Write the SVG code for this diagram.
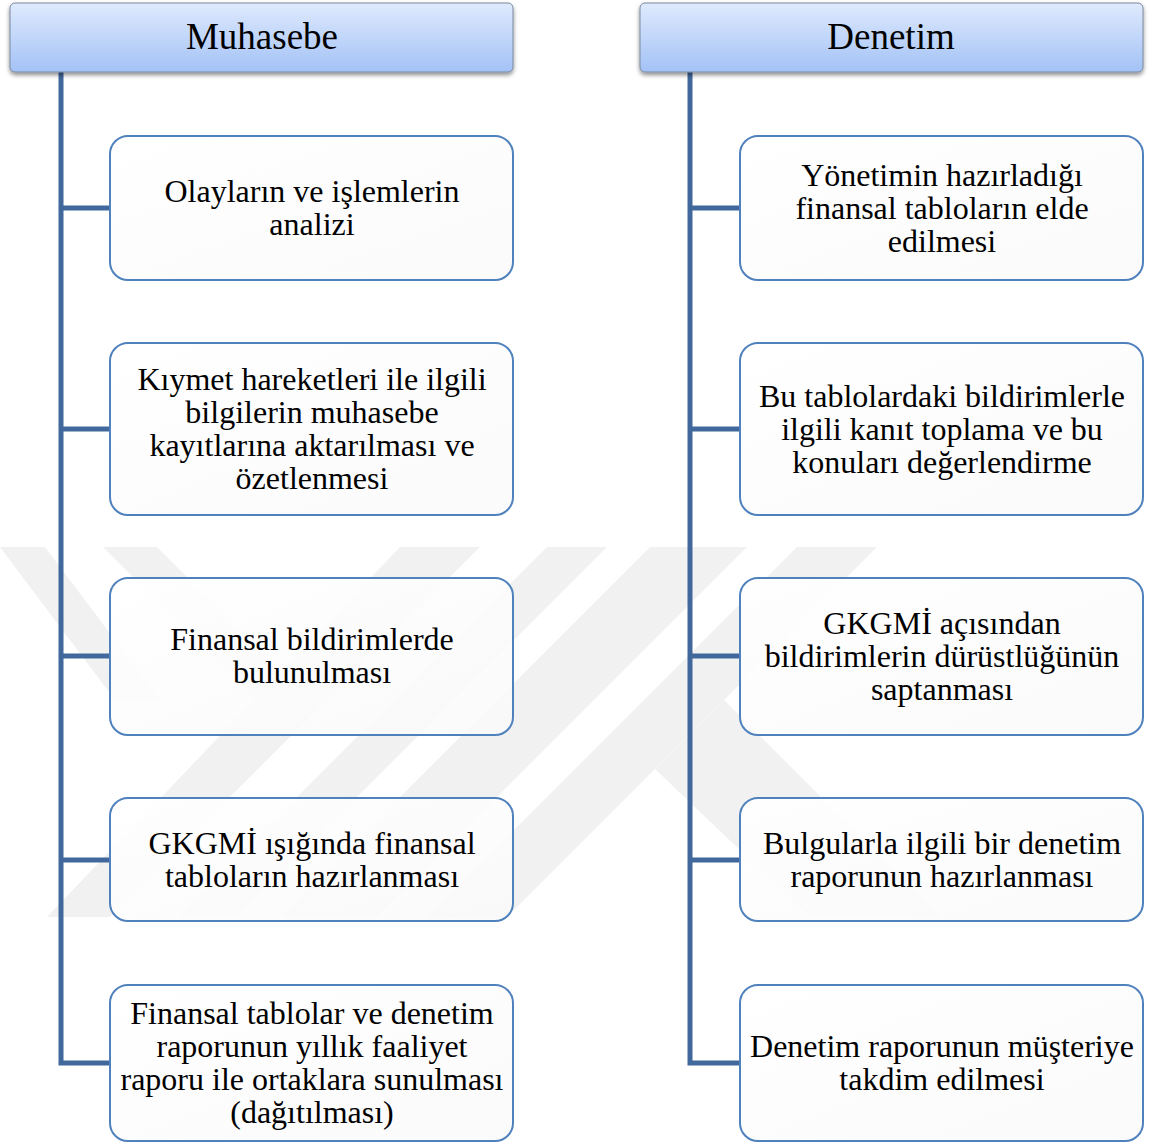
<svg xmlns="http://www.w3.org/2000/svg" width="1158" height="1144" viewBox="0 0 1158 1144">
<defs>
<linearGradient id="hdr" x1="0" y1="0" x2="0" y2="1">
<stop offset="0" stop-color="#dfeafd"/>
<stop offset="1" stop-color="#a3c2f6"/>
</linearGradient>
<linearGradient id="box" x1="0" y1="0" x2="1" y2="1">
<stop offset="0" stop-color="#ffffff" stop-opacity="0.95"/>
<stop offset="1" stop-color="#fafafa" stop-opacity="0.85"/>
</linearGradient>
<filter id="sh" x="-5%" y="-20%" width="110%" height="150%">
<feDropShadow dx="0" dy="2.5" stdDeviation="2" flood-color="#000" flood-opacity="0.45"/>
</filter>
</defs>
<style>
.hdr{fill:url(#hdr);stroke:#7b8aa0;stroke-width:1}
.hdrt{font-family:"Liberation Serif","Times New Roman",serif;font-size:37px;fill:#000;text-anchor:middle}
.box{fill:url(#box);stroke:#4f81bd;stroke-width:2}
.t{font-family:"Liberation Serif","Times New Roman",serif;font-size:32px;fill:#000;text-anchor:middle}
.ln{stroke:#41689c;stroke-width:5;fill:none;stroke-linejoin:miter}
.wm{fill:#f1f1f1}
</style>
<rect width="1158" height="1144" fill="#fff"/>
<g id="watermark">
<polygon class="wm" points="0,547 45,547 160,700 115,700"/>
<polygon class="wm" points="103,547 157,547 281,671 255,699"/>
<polygon class="wm" points="400,547 480,547 110,917 47,917"/>
<polygon class="wm" points="547,547 607,547 237,917 177,917"/>
<polygon class="wm" points="650,547 747,547 377,917 280,917"/>
<polygon class="wm" points="797,547 877,547 507,917 427,917"/>
<polygon class="wm" points="724,700 941,917 810,917 655,769"/>
</g>
<g id="connectors">
<path class="ln" d="M61,72 V1063 H110 M61,208 H110 M61,429 H110 M61,656 H110 M61,860 H110"/>
<path class="ln" d="M690,72 V1063 H740 M690,208 H740 M690,429 H740 M690,656 H740 M690,860 H740"/>
</g>
<g id="muhasebe">
<rect class="hdr" x="10" y="3" width="503" height="69" rx="5" filter="url(#sh)"/>
<text class="hdrt" x="262" y="49">Muhasebe</text>
</g>
<g id="denetim">
<rect class="hdr" x="640" y="3" width="503" height="69" rx="5" filter="url(#sh)"/>
<text class="hdrt" x="891" y="49">Denetim</text>
</g>
<g id="m1">
<rect class="box" x="110" y="136" width="403" height="144" rx="18"/>
<text class="t" x="312" y="202">Olayların ve işlemlerin</text>
<text class="t" x="312" y="235">analizi</text>
</g>
<g id="m2">
<rect class="box" x="110" y="343" width="403" height="172" rx="18"/>
<text class="t" x="312" y="390">Kıymet hareketleri ile ilgili</text>
<text class="t" x="312" y="423">bilgilerin muhasebe</text>
<text class="t" x="312" y="456">kayıtlarına aktarılması ve</text>
<text class="t" x="312" y="489">özetlenmesi</text>
</g>
<g id="m3">
<rect class="box" x="110" y="578" width="403" height="157" rx="18"/>
<text class="t" x="312" y="650">Finansal bildirimlerde</text>
<text class="t" x="312" y="683">bulunulması</text>
</g>
<g id="m4">
<rect class="box" x="110" y="798" width="403" height="123" rx="18"/>
<text class="t" x="312" y="854">GKGMİ ışığında finansal</text>
<text class="t" x="312" y="887">tabloların hazırlanması</text>
</g>
<g id="m5">
<rect class="box" x="110" y="985" width="403" height="156" rx="18"/>
<text class="t" x="312" y="1024">Finansal tablolar ve denetim</text>
<text class="t" x="312" y="1057">raporunun yıllık faaliyet</text>
<text class="t" x="312" y="1090">raporu ile ortaklara sunulması</text>
<text class="t" x="312" y="1123">(dağıtılması)</text>
</g>
<g id="d1">
<rect class="box" x="740" y="136" width="403" height="144" rx="18"/>
<text class="t" x="942" y="186">Yönetimin hazırladığı</text>
<text class="t" x="942" y="219">finansal tabloların elde</text>
<text class="t" x="942" y="252">edilmesi</text>
</g>
<g id="d2">
<rect class="box" x="740" y="343" width="403" height="172" rx="18"/>
<text class="t" x="942" y="407">Bu tablolardaki bildirimlerle</text>
<text class="t" x="942" y="440">ilgili kanıt toplama ve bu</text>
<text class="t" x="942" y="473">konuları değerlendirme</text>
</g>
<g id="d3">
<rect class="box" x="740" y="578" width="403" height="157" rx="18"/>
<text class="t" x="942" y="634">GKGMİ açısından</text>
<text class="t" x="942" y="667">bildirimlerin dürüstlüğünün</text>
<text class="t" x="942" y="700">saptanması</text>
</g>
<g id="d4">
<rect class="box" x="740" y="798" width="403" height="123" rx="18"/>
<text class="t" x="942" y="854">Bulgularla ilgili bir denetim</text>
<text class="t" x="942" y="887">raporunun hazırlanması</text>
</g>
<g id="d5">
<rect class="box" x="740" y="985" width="403" height="156" rx="18"/>
<text class="t" x="942" y="1057">Denetim raporunun müşteriye</text>
<text class="t" x="942" y="1090">takdim edilmesi</text>
</g>
</svg>
